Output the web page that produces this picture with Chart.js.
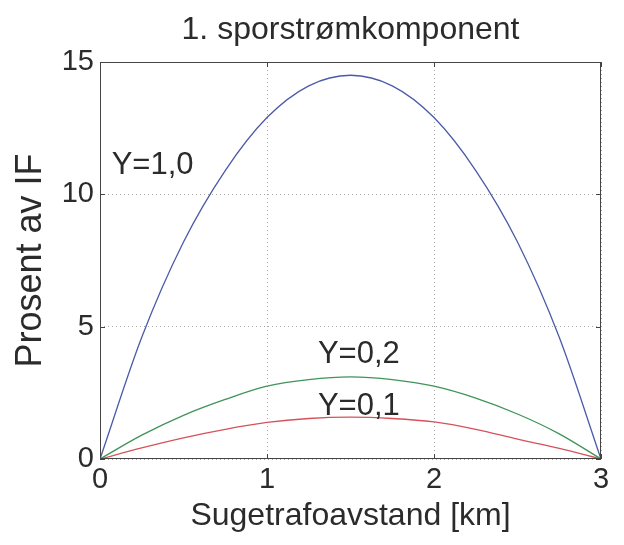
<!DOCTYPE html>
<html>
<head>
<meta charset="utf-8">
<script src="https://cdn.jsdelivr.net/npm/chart.js@4"></script>
<style>
  html, body { margin: 0; padding: 0; background: #fff; }
  #wrap { width: 624px; height: 545px; }
</style>
</head>
<body>
<div id="wrap"><canvas id="kurve" width="624" height="545"></canvas></div>
<script>
// avstand langs sporet [km]
const avstand = [0, 0.25, 0.5, 0.75, 1, 1.25, 1.5, 1.75, 2, 2.25, 2.5, 2.75, 3];
// prosent av IF for hver Y
const y10 = [0, 4.6, 8.2, 10.9, 12.9, 14.1, 14.5, 14.1, 12.9, 10.9, 8.2, 4.6, 0];
const y02 = [0, 0.9, 1.65, 2.25, 2.75, 3.0, 3.1, 3.0, 2.75, 2.3, 1.7, 0.95, 0];
const y01 = [0, 0.42, 0.8, 1.12, 1.38, 1.53, 1.58, 1.53, 1.4, 1.12, 0.75, 0.4, 0];
const xTicks = [0, 1, 2, 3];
const yTicks = [0, 5, 10, 15];

// kurvetekster: [tekst, x, y, justering]
const etiketter = [
  ["Y=1,0", 0.07, 11.1, "left"],
  ["Y=0,2", 1.55, 3.96, "center"],
  ["Y=0,1", 1.55, 2.0, "center"]
];

const tekstFarge = "#2b2b2b";
const font = "'Liberation Sans', Arial, sans-serif";

function punkter(ys) {
  return avstand.map((x, i) => ({ x: x, y: ys[i] }));
}

const rammeOgTekst = {
  id: "rammeOgTekst",
  afterDatasetsDraw(chart) {
    const ctx = chart.ctx;
    const a = chart.chartArea;
    const xs = chart.scales.x, ys = chart.scales.y;
    ctx.save();
    ctx.strokeStyle = "#444";
    ctx.lineWidth = 1;
    ctx.strokeRect(a.left + 0.5, a.top + 0.5, a.right - a.left - 1, a.bottom - a.top - 1);
    // korte innvendige merker
    xTicks.forEach(v => {
      const px = Math.round(xs.getPixelForValue(v)) + 0.5;
      ctx.beginPath();
      ctx.moveTo(px, a.bottom); ctx.lineTo(px, a.bottom - 5);
      ctx.moveTo(px, a.top); ctx.lineTo(px, a.top + 5);
      ctx.stroke();
    });
    yTicks.forEach(v => {
      const py = Math.round(ys.getPixelForValue(v)) + 0.5;
      ctx.beginPath();
      ctx.moveTo(a.left, py); ctx.lineTo(a.left + 5, py);
      ctx.moveTo(a.right, py); ctx.lineTo(a.right - 5, py);
      ctx.stroke();
    });
    ctx.fillStyle = tekstFarge;
    ctx.font = "31px " + font;
    ctx.textBaseline = "middle";
    etiketter.forEach(([t, x, y, al]) => {
      ctx.textAlign = al;
      ctx.fillText(t, xs.getPixelForValue(x), ys.getPixelForValue(y));
    });
    ctx.restore();
  }
};

new Chart(document.getElementById("kurve"), {
  type: "line",
  data: {
    datasets: [
      { label: "Y=1,0", data: punkter(y10), borderColor: "#4b5aa8" },
      { label: "Y=0,2", data: punkter(y02), borderColor: "#3f9458" },
      { label: "Y=0,1", data: punkter(y01), borderColor: "#d6525a" }
    ]
  },
  options: {
    responsive: false,
    animation: false,
    layout: { padding: { top: 0, right: 23, bottom: 0, left: 0 } },
    elements: {
      point: { radius: 0 },
      line: { borderWidth: 1.3, cubicInterpolationMode: "monotone" }
    },
    plugins: {
      legend: { display: false },
      tooltip: { enabled: false },
      title: {
        display: true,
        fullSize: false,
        text: "1. sporstrømkomponent",
        color: tekstFarge,
        font: { family: font, size: 32, weight: "normal" },
        padding: { top: 11, bottom: 12.6 }
      }
    },
    scales: {
      x: {
        type: "linear",
        min: 0, max: 3,
        afterBuildTicks: s => { s.ticks = xTicks.map(v => ({ value: v })); },
        afterFit: s => { s.height = 86; },
        ticks: { color: tekstFarge, font: { family: font, size: 29 }, padding: 4 },
        grid: { color: "#aaa", tickLength: 0, drawTicks: false },
        border: { display: false, dash: [1, 3] },
        title: {
          display: true,
          text: "Sugetrafoavstand [km]",
          color: tekstFarge,
          font: { family: font, size: 32 },
          padding: { top: 0, bottom: 10 }
        }
      },
      y: {
        min: 0, max: 15,
        afterBuildTicks: s => { s.ticks = yTicks.map(v => ({ value: v })); },
        afterFit: s => { s.width = 100; },
        ticks: { color: tekstFarge, font: { family: font, size: 29 }, padding: 6 },
        grid: { color: "#aaa", tickLength: 0, drawTicks: false },
        border: { display: false, dash: [1, 3] },
        title: {
          display: true,
          text: "Prosent av IF",
          color: tekstFarge,
          font: { family: font, size: 36 },
          padding: { top: 9, bottom: 0 }
        }
      }
    }
  },
  plugins: [rammeOgTekst]
});
</script>
</body>
</html>
